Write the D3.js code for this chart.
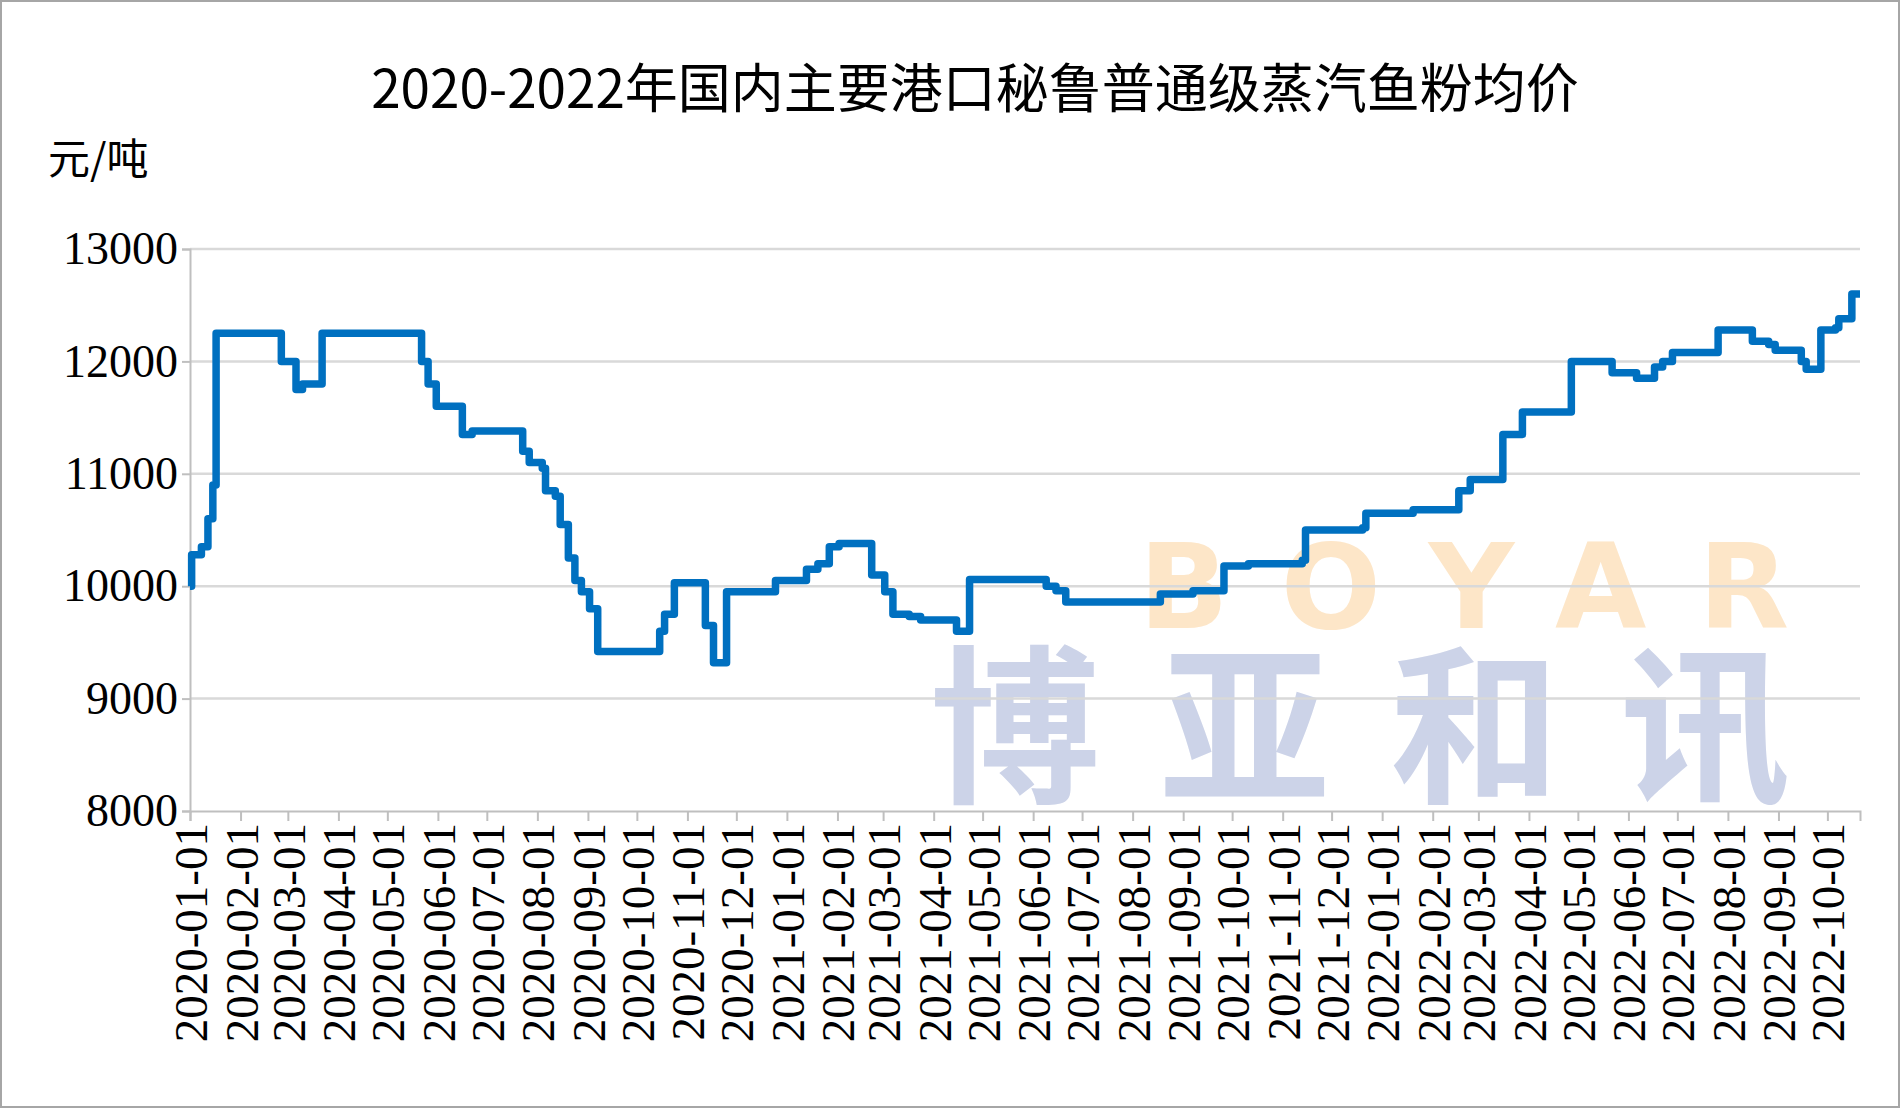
<!DOCTYPE html>
<html><head><meta charset="utf-8">
<script src="https://cdn.jsdelivr.net/npm/d3@7"></script>
<style>body{margin:0;background:#fff}</style>
</head><body><svg id="c" width="1900" height="1108"></svg>
<script>
// step changes of the average price
var dates = ["2020-01-01","2020-01-02","2020-01-08","2020-01-12","2020-01-15","2020-01-17","2020-02-22","2020-02-26","2020-03-03","2020-03-06","2020-03-10","2020-03-19","2020-03-22","2020-05-20","2020-05-22","2020-05-26","2020-05-31","2020-06-15","2020-06-16","2020-06-22","2020-07-22","2020-07-23","2020-07-27","2020-08-04","2020-08-06","2020-08-12","2020-08-15","2020-08-20","2020-08-24","2020-08-28","2020-09-02","2020-09-07","2020-10-12","2020-10-15","2020-10-18","2020-10-24","2020-11-09","2020-11-12","2020-11-17","2020-11-24","2020-11-25","2020-12-22","2020-12-25","2021-01-13","2021-01-20","2021-01-27","2021-02-02","2021-02-18","2021-02-22","2021-03-02","2021-03-07","2021-03-17","2021-03-24","2021-04-13","2021-04-15","2021-04-21","2021-04-23","2021-06-03","2021-06-09","2021-06-15","2021-06-21","2021-08-16","2021-08-18","2021-09-07","2021-09-22","2021-09-26","2021-10-11","2021-11-13","2021-11-15","2021-12-20","2021-12-22","2022-01-18","2022-01-20","2022-02-16","2022-02-17","2022-02-24","2022-03-14","2022-03-16","2022-03-27","2022-03-28","2022-04-26","2022-04-27","2022-05-14","2022-05-22","2022-06-06","2022-06-13","2022-06-17","2022-06-22","2022-06-28","2022-07-24","2022-07-26","2022-08-14","2022-08-16","2022-08-26","2022-08-30","2022-09-12","2022-09-15","2022-09-18","2022-09-25","2022-09-27","2022-10-06","2022-10-08","2022-10-14","2022-10-16","2022-10-21"];
var prices = [10000,10280,10350,10600,10900,12250,12250,12000,12000,11750,11800,11800,12250,12250,12000,11800,11600,11600,11350,11380,11380,11200,11100,11050,10850,10800,10550,10250,10050,9950,9800,9420,9420,9600,9750,10030,10030,9650,9320,9320,9950,9950,10050,10150,10200,10350,10380,10380,10100,9950,9750,9730,9700,9700,9600,9600,10060,10060,10000,9960,9860,9860,9930,9960,9960,10180,10200,10230,10500,10520,10650,10650,10680,10680,10850,10950,10950,11350,11350,11550,11550,12000,12000,11900,11850,11850,11950,12000,12080,12080,12280,12280,12180,12150,12100,12100,12000,11930,11930,12280,12300,12380,12380,12600,12600];
var yTicks = [8000,9000,10000,11000,12000,13000];
var title = "2020-2022年国内主要港口秘鲁普通级蒸汽鱼粉均价";
var unit = "元/吨";

var svg = d3.select("#c");
var parse = d3.timeParse("%Y-%m-%d");
var data = dates.map(function(d, i){ return {d: parse(d), v: prices[i]}; });

var pLeft = 190, pRight = 1860, pTop = 249, pBottom = 811;
var x = d3.scaleTime().domain([parse("2020-01-01"), parse("2022-10-21")]).range([pLeft, pRight]);
var y = d3.scaleLinear().domain([8000, 13000]).range([pBottom, pTop]);

svg.append("rect").attr("x",1).attr("y",1).attr("width",1898).attr("height",1106)
  .attr("fill","#fff").attr("stroke","#a6a6a6").attr("stroke-width",2);

// watermark
svg.append("text").attr("x",1490).attr("y",628).attr("text-anchor","middle")
  .style("font-family","DejaVu Sans").style("font-weight","bold").style("font-size","118px")
  .attr("letter-spacing",52).attr("fill","#fde6c8").text("BOYAR");
svg.append("text").attr("x",1390).attr("y",790).attr("text-anchor","middle")
  .style("font-family","Noto Sans CJK SC").style("font-weight","bold").style("font-size","170px")
  .attr("letter-spacing",60).attr("fill","#ccd3e8").text("博亚和讯");

// grid
svg.append("g").selectAll("line").data(yTicks.slice(1)).join("line")
  .attr("x1",pLeft).attr("x2",pRight).attr("y1",y).attr("y2",y)
  .attr("stroke","#d9d9d9").attr("stroke-width",2.5);

var ya = svg.append("g").attr("transform","translate("+pLeft+",0)")
  .call(d3.axisLeft(y).tickValues(yTicks).tickSize(8).tickFormat(d3.format("d")));
ya.select(".domain").attr("stroke","#bfbfbf").attr("stroke-width",2);
ya.selectAll(".tick line").attr("stroke","#bfbfbf").attr("stroke-width",2);
ya.selectAll("text").style("font-family","Liberation Serif").style("font-size","46px").attr("fill","#000").attr("x",-12);

var xa = svg.append("g").attr("transform","translate(0,"+pBottom+")")
  .call(d3.axisBottom(x).ticks(d3.timeMonth.every(1)).tickSize(10).tickFormat(d3.timeFormat("%Y-%m-%d")));
xa.select(".domain").attr("stroke","#bfbfbf").attr("stroke-width",2);
xa.selectAll(".tick line").attr("stroke","#bfbfbf").attr("stroke-width",2);
xa.selectAll("text").style("font-family","Liberation Serif").style("font-size","47px").attr("fill","#000")
  .attr("transform","rotate(-90)").attr("text-anchor","end").attr("x",-12).attr("y",0).attr("dy","0.35em");

svg.append("path").datum(data)
  .attr("d", d3.line().x(function(d){return x(d.d);}).y(function(d){return y(d.v);}).curve(d3.curveStepAfter))
  .attr("fill","none").attr("stroke","#0070c0").attr("stroke-width",7.5).attr("stroke-linejoin","round");

svg.append("text").attr("x",975).attr("y",108).attr("text-anchor","middle")
  .style("font-family","Noto Sans CJK SC").style("font-size","53px").attr("fill","#000").text(title);
svg.append("text").attr("x",48).attr("y",174)
  .style("font-family","Noto Sans CJK SC").style("font-size","42px").attr("fill","#000").text(unit);
</script></body></html>
